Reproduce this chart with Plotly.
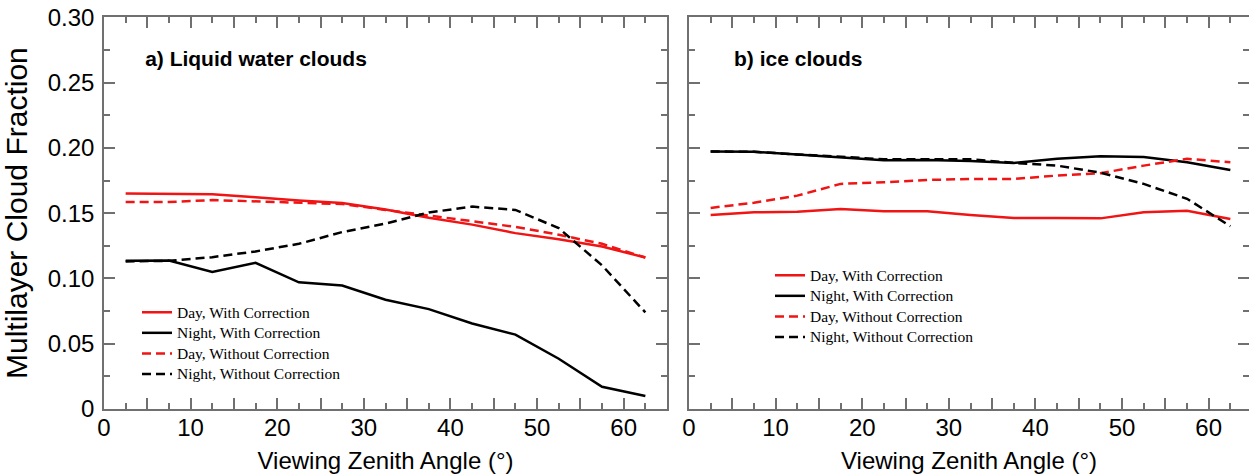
import plotly.graph_objects as go

# ---- data ----
vza = [2.5, 7.5, 12.5, 17.5, 22.5, 27.5, 32.5, 37.5, 42.5, 47.5, 52.5, 57.5, 62.5]

liq_day_with = [0.165, 0.1648, 0.1645, 0.1622, 0.1597, 0.1578, 0.1528, 0.1464, 0.1412, 0.1347, 0.1300, 0.1245, 0.1160]
liq_night_with = [0.1135, 0.1138, 0.1050, 0.1120, 0.0970, 0.0945, 0.0837, 0.0765, 0.0655, 0.0570, 0.0385, 0.0170, 0.0100]
liq_day_without = [0.1585, 0.1585, 0.1600, 0.1590, 0.1585, 0.1570, 0.1525, 0.1480, 0.1440, 0.1395, 0.1335, 0.1265, 0.1160]
liq_night_without = [0.1130, 0.1135, 0.1163, 0.1207, 0.1265, 0.1355, 0.1420, 0.1505, 0.1550, 0.1525, 0.1385, 0.1100, 0.0740]

ice_day_with = [0.1486, 0.1506, 0.1510, 0.1532, 0.1514, 0.1514, 0.1486, 0.1463, 0.1463, 0.1460, 0.1506, 0.1519, 0.1455]
ice_night_with = [0.1972, 0.1970, 0.1950, 0.1930, 0.1905, 0.1908, 0.1900, 0.1885, 0.1916, 0.1936, 0.1930, 0.1890, 0.1830]
ice_day_without = [0.1540, 0.1580, 0.1634, 0.1724, 0.1737, 0.1754, 0.1762, 0.1762, 0.1788, 0.1806, 0.1864, 0.1916, 0.1890]
ice_night_without = [0.1972, 0.1970, 0.1950, 0.1930, 0.1913, 0.1912, 0.1912, 0.1885, 0.1864, 0.1810, 0.1724, 0.1610, 0.1400]

series_names = ["Day, With Correction", "Night, With Correction",
                "Day, Without Correction", "Night, Without Correction"]
panel_labels = ["a) Liquid water clouds", "b) ice clouds"]
x_title = "Viewing Zenith Angle (°)"
y_title = "Multilayer Cloud Fraction"

x_label_alias = {"5": " ", "15": " ", "25": " ", "35": " ", "45": " ", "55": " ", "65": " "}
y_label_alias = {"0.00": "0"}

RED = "#f01414"
BLACK = "#000000"
AX = "#707070"
W, H = 1249, 476
SANS = "Liberation Sans, Arial, Helvetica, sans-serif"
SERIF = "Liberation Serif, Times New Roman, serif"

styles = [(RED, "solid"), (BLACK, "solid"), (RED, "9px,5px"), (BLACK, "9px,5px")]
label_pos = [(4.75, 0.2665), (5.2, 0.2665)]

fig = go.Figure()
panels = [
    ([liq_day_with, liq_night_with, liq_day_without, liq_night_without], "x", "y", "legend"),
    ([ice_day_with, ice_night_with, ice_day_without, ice_night_without], "x2", "y2", "legend2"),
]
for (data, xa, ya, lg), label, (lx, ly) in zip(panels, panel_labels, label_pos):
    for name, vals, (col, dash) in zip(series_names, data, styles):
        fig.add_trace(go.Scatter(
            x=vza, y=vals, mode="lines",
            name='<span style="font-size:15.5px">' + name + "</span>",
            line=dict(color=col, width=2.5, dash=dash),
            xaxis=xa, yaxis=ya, legend=lg, showlegend=True,
        ))
    # panel label in the upper-left corner of each panel
    fig.add_trace(go.Scatter(
        x=[lx], y=[ly], mode="text", text=["<b>" + label + "</b>"],
        textposition="middle right", hoverinfo="skip", showlegend=False,
        textfont=dict(family=SANS, size=21, color="black"),
        xaxis=xa, yaxis=ya,
    ))

Y_DOM = [(H - 409) / H, (H - 17.3) / H]
x1_dom = [104 / W, 667 / W]
x2_dom = [689 / W, 1.0]
x2_max = (W - 689) / ((667 - 104) / 65.0)

def make_x(domain, rng, anchor):
    return dict(
        domain=domain, range=rng, anchor=anchor, showgrid=False, zeroline=False,
        showline=True, linecolor=AX, linewidth=1.5, mirror="ticks",
        ticks="inside", ticklen=11, tickwidth=1.5, tickcolor=AX,
        tickmode="linear", tick0=0, dtick=5, labelalias=x_label_alias,
        tickfont=dict(family=SANS, size=24, color="black"),
        ticklabelstandoff=-4,
        minor=dict(ticks="inside", ticklen=6, dtick=2.5, tickcolor=AX),
        title=dict(text=x_title, standoff=13,
                   font=dict(family=SANS, size=24, color="black")),
        automargin=False, fixedrange=True,
    )

def make_y(anchor, showlabels, title):
    d = dict(
        domain=Y_DOM, range=[0, 0.30], anchor=anchor,
        showgrid=False, zeroline=False,
        showline=True, linecolor=AX, linewidth=1.5, mirror="ticks",
        ticks="inside", ticklen=11, tickwidth=1.5, tickcolor=AX,
        tickmode="linear", tick0=0, dtick=0.05,
        showticklabels=showlabels,
        tickfont=dict(family=SANS, size=24, color="black"),
        minor=dict(ticks="inside", ticklen=6, dtick=0.025, tickcolor=AX),
        automargin=False,
    )
    if showlabels:
        d.update(tickformat=".2f", labelalias=y_label_alias, ticklabelstandoff=3)
    if title:
        d["title"] = dict(text=title, font=dict(family=SANS, size=30, color="black"))
    return d

fig.update_layout(
    width=W, height=H,
    margin=dict(l=0, r=0, t=0, b=0),
    paper_bgcolor="white", plot_bgcolor="white",
    xaxis=make_x(x1_dom, [0, 65], "y"),
    xaxis2=make_x(x2_dom, [0, x2_max], "y2"),
    yaxis=make_y("x", True, y_title),
    yaxis2=make_y("x2", False, None),
    legend=dict(x=137 / W, y=1 - 297 / H, xanchor="left", yanchor="top",
                bgcolor="rgba(0,0,0,0)", borderwidth=0,
                font=dict(family=SERIF, size=13.5, color="black"),
                tracegroupgap=0, itemwidth=30),
    legend2=dict(x=770 / W, y=1 - 260 / H, xanchor="left", yanchor="top",
                 bgcolor="rgba(0,0,0,0)", borderwidth=0,
                 font=dict(family=SERIF, size=13.5, color="black"),
                 tracegroupgap=0, itemwidth=30),
    showlegend=True,
)

fig.write_html("out.html")
